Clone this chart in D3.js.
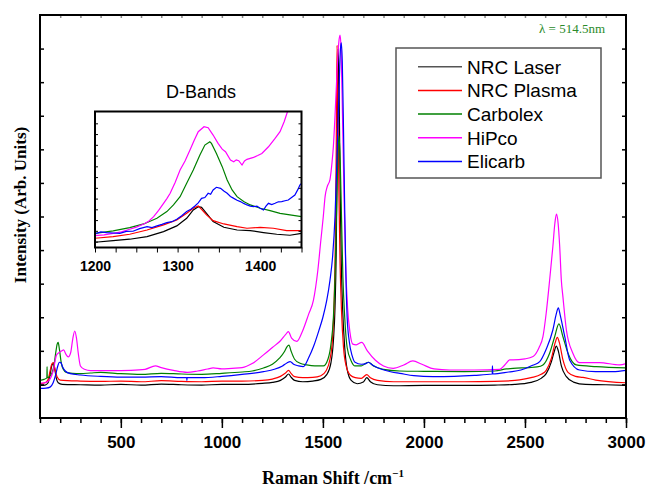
<!DOCTYPE html>
<html>
<head>
<meta charset="utf-8">
<script src="https://cdn.jsdelivr.net/npm/d3@7"></script>
<style>
  body { margin: 0; background: #fff; }
  svg { display: block; }
</style>
</head>
<body>
<div id="chart"></div>
<script>
// legend names and colours
const names = ["NRC Laser", "NRC Plasma", "Carbolex", "HiPco", "Elicarb"];
const colors = ["#000000", "#ff0000", "#008000", "#ff00ff", "#0000ff"];
const legendColors = ["#555555", "#ff0000", "#008000", "#ff00ff", "#0000ff"];

// main spectrum: [Raman shift, intensity (arb.)]
const nrcLaser = [[100,0.97],[125,0.98],[140,1.05],[150,1.3],[158,1.55],[165,1.62],[172,1.5],[180,1.2],[190,1.05],[210,1.0],[300,0.99],[400,0.98],[500,1.0],[600,0.98],[700,1.01],[800,0.99],[900,0.98],[1000,1.0],[1100,1.0],[1200,1.03],[1250,1.06],[1290,1.12],[1315,1.22],[1330,1.31],[1342,1.22],[1360,1.12],[1400,1.08],[1450,1.1],[1490,1.15],[1520,1.3],[1540,1.65],[1552,2.3],[1560,3.3],[1566,5.0],[1571,8.0],[1576,11.0],[1580,9.8],[1585,7.0],[1591,4.6],[1598,3.2],[1608,2.1],[1620,1.45],[1640,1.12],[1670,1.02],[1700,1.07],[1717,1.2],[1735,1.08],[1770,0.99],[1850,0.96],[2000,0.97],[2200,0.97],[2350,0.98],[2450,1.0],[2530,1.06],[2580,1.18],[2605,1.32],[2631,1.68],[2645,1.98],[2655,2.14],[2665,2.0],[2680,1.55],[2705,1.23],[2740,1.07],[2800,1.0],[2900,0.99],[3000,0.97]];
const nrcPlasma = [[100,1.02],[125,1.05],[140,1.15],[150,1.4],[158,1.6],[166,1.65],[175,1.42],[185,1.22],[200,1.13],[300,1.1],[400,1.09],[500,1.1],[600,1.08],[700,1.11],[800,1.09],[900,1.08],[1000,1.1],[1100,1.1],[1200,1.12],[1250,1.16],[1290,1.24],[1315,1.34],[1330,1.42],[1342,1.33],[1360,1.23],[1400,1.2],[1450,1.21],[1490,1.26],[1515,1.4],[1535,1.75],[1548,2.4],[1556,3.5],[1562,5.5],[1566,8.0],[1570,11.1],[1574,9.6],[1579,6.8],[1585,4.6],[1592,3.2],[1602,2.1],[1615,1.55],[1635,1.28],[1660,1.2],[1690,1.18],[1717,1.29],[1735,1.2],[1770,1.12],[1850,1.08],[2000,1.08],[2200,1.08],[2350,1.09],[2450,1.12],[2530,1.2],[2580,1.3],[2605,1.42],[2631,1.78],[2650,2.25],[2660,2.4],[2670,2.25],[2688,1.73],[2713,1.36],[2750,1.24],[2787,1.21],[2850,1.13],[3000,1.05]];
const carbolex = [[100,1.12],[120,1.15],[130,1.18],[134,1.2],[135,1.53],[136,1.2],[145,1.22],[160,1.35],[170,1.6],[178,1.95],[185,2.2],[190,2.25],[196,2.05],[205,1.65],[215,1.45],[230,1.36],[260,1.33],[300,1.32],[350,1.34],[400,1.36],[500,1.32],[600,1.3],[700,1.33],[800,1.31],[900,1.3],[1000,1.33],[1100,1.37],[1150,1.4],[1206,1.49],[1250,1.6],[1285,1.78],[1310,1.98],[1322,2.12],[1332,2.17],[1342,2.0],[1360,1.75],[1387,1.63],[1420,1.58],[1460,1.55],[1502,1.55],[1525,1.75],[1540,2.2],[1552,3.0],[1560,4.2],[1567,6.0],[1573,7.6],[1580,8.4],[1586,7.6],[1592,6.0],[1599,4.2],[1608,3.0],[1620,2.1],[1640,1.7],[1659,1.55],[1690,1.55],[1710,1.62],[1725,1.66],[1750,1.55],[1800,1.45],[1881,1.4],[2000,1.39],[2200,1.38],[2350,1.4],[2408,1.46],[2441,1.48],[2520,1.5],[2560,1.52],[2589,1.58],[2622,1.93],[2647,2.42],[2668,2.8],[2688,2.42],[2713,1.93],[2754,1.58],[2853,1.53],[3000,1.49]];
const hipco = [[100,1.04],[125,1.05],[145,1.12],[165,1.4],[182,1.88],[195,1.95],[208,2.0],[217,2.03],[228,1.9],[240,1.82],[252,1.95],[262,2.35],[272,2.59],[280,2.4],[290,1.9],[300,1.55],[320,1.45],[350,1.41],[450,1.41],[550,1.42],[620,1.45],[671,1.55],[700,1.5],[760,1.42],[829,1.36],[880,1.4],[930,1.46],[957,1.49],[1000,1.46],[1050,1.48],[1100,1.5],[1150,1.62],[1206,1.88],[1250,2.1],[1290,2.3],[1315,2.48],[1329,2.57],[1345,2.38],[1371,2.28],[1400,2.6],[1430,3.1],[1453,3.5],[1475,4.4],[1490,5.3],[1502,6.0],[1511,6.6],[1522,6.9],[1535,7.1],[1545,7.6],[1552,8.1],[1560,9.0],[1570,10.3],[1579,11.2],[1585,11.4],[1590,11.0],[1597,9.0],[1605,6.5],[1613,4.5],[1622,3.3],[1634,2.55],[1648,2.2],[1665,2.18],[1692,2.25],[1720,2.0],[1760,1.72],[1800,1.55],[1848,1.48],[1900,1.58],[1945,1.7],[1990,1.6],[2050,1.46],[2128,1.43],[2250,1.43],[2375,1.45],[2400,1.58],[2425,1.73],[2441,1.73],[2500,1.76],[2540,1.83],[2570,2.1],[2589,2.42],[2605,3.12],[2622,4.1],[2638,5.1],[2648,5.8],[2656,6.07],[2664,5.8],[2672,5.1],[2680,4.1],[2688,3.6],[2705,2.62],[2737,1.93],[2770,1.65],[2869,1.65],[2968,1.58],[3000,1.62]];
const elicarb = [[100,0.88],[130,0.89],[150,0.92],[165,1.05],[178,1.3],[188,1.55],[196,1.66],[203,1.65],[212,1.52],[225,1.4],[250,1.32],[300,1.28],[400,1.24],[500,1.22],[600,1.22],[700,1.23],[800,1.2],[826,1.2],[827,1.12],[828,1.2],[900,1.2],[1000,1.24],[1100,1.3],[1206,1.38],[1260,1.45],[1300,1.55],[1322,1.64],[1338,1.68],[1355,1.6],[1380,1.55],[1403,1.53],[1430,1.8],[1455,2.15],[1480,2.6],[1500,3.0],[1519,3.5],[1535,4.1],[1548,4.8],[1560,6.0],[1570,7.8],[1580,9.8],[1587,11.0],[1591,11.17],[1596,10.6],[1602,8.6],[1608,6.2],[1614,4.2],[1620,3.0],[1630,2.3],[1645,1.85],[1659,1.66],[1690,1.6],[1712,1.62],[1725,1.66],[1745,1.58],[1790,1.45],[1840,1.37],[1881,1.33],[1950,1.26],[2045,1.23],[2150,1.24],[2250,1.27],[2338,1.31],[2339,1.55],[2341,1.31],[2420,1.37],[2480,1.43],[2538,1.57],[2573,1.68],[2605,2.05],[2638,2.62],[2655,3.1],[2665,3.28],[2675,3.05],[2697,2.42],[2721,1.73],[2770,1.43],[2850,1.38],[2935,1.38],[3000,1.42]];

// inset (D-band region), own arbitrary scale
const dLaser = [[1200,-0.06],[1222,0.09],[1242,0.22],[1263,0.46],[1283,0.93],[1299,1.46],[1311,2.17],[1319,2.94],[1325,3.25],[1329,3.19],[1335,2.63],[1343,1.86],[1356,1.33],[1372,1.08],[1388,1.02],[1404,0.84],[1420,0.68],[1436,0.59],[1450,0.77]];
const dPlasma = [[1200,0.31],[1222,0.46],[1242,0.68],[1263,1.08],[1283,1.55],[1299,2.01],[1311,2.63],[1319,3.1],[1325,3.31],[1329,3.0],[1335,2.48],[1343,1.95],[1356,1.64],[1372,1.39],[1384,1.24],[1400,1.33],[1416,1.24],[1432,1.02],[1450,1.02]];
const dCarbolex = [[1200,0.77],[1222,0.99],[1242,1.3],[1259,1.64],[1275,2.17],[1287,2.79],[1295,3.41],[1303,4.18],[1311,5.42],[1319,6.66],[1327,8.05],[1333,8.98],[1339,9.29],[1341,9.13],[1347,8.2],[1354,6.97],[1360,5.73],[1366,4.8],[1372,4.18],[1380,3.72],[1388,3.41],[1400,3.1],[1412,2.88],[1424,2.63],[1436,2.48],[1450,2.32]];
const dHipco = [[1200,0.56],[1211,0.62],[1222,0.77],[1232,0.9],[1242,1.15],[1250,1.35],[1259,1.64],[1265,1.9],[1271,2.32],[1277,2.9],[1283,3.56],[1287,4.0],[1291,4.49],[1297,5.5],[1303,6.66],[1309,7.5],[1315,8.51],[1320,9.4],[1325,10.22],[1332,10.68],[1337,10.59],[1343,9.91],[1349,9.13],[1354,8.6],[1358,8.36],[1364,7.59],[1368,7.43],[1371,7.6],[1374,7.52],[1378,7.12],[1381,7.5],[1384,7.65],[1392,7.83],[1397,8.0],[1402,8.2],[1410,8.82],[1418,9.6],[1424,10.22],[1429,11.15],[1433,12.07],[1436,12.6]];
const dElicarb = [[1200,0.71],[1207,0.9],[1214,0.84],[1222,0.8],[1230,0.77],[1238,0.95],[1246,0.96],[1254,1.2],[1263,1.39],[1269,1.3],[1275,1.46],[1281,1.6],[1287,1.76],[1293,1.85],[1299,2.07],[1305,2.4],[1311,2.79],[1316,3.0],[1321,3.31],[1325,3.6],[1329,4.02],[1333,4.1],[1337,4.49],[1340,4.4],[1343,4.8],[1347,5.05],[1352,4.95],[1356,4.7],[1360,4.49],[1364,4.2],[1368,4.02],[1372,3.85],[1376,3.72],[1380,3.55],[1384,3.41],[1388,3.3],[1392,3.25],[1396,3.3],[1400,3.1],[1404,2.94],[1407,3.3],[1410,3.56],[1414,3.45],[1418,3.56],[1422,3.7],[1426,3.72],[1430,3.8],[1434,3.87],[1438,4.1],[1442,4.33],[1446,4.9],[1448,5.26],[1450,5.42]];

const mainSeries = [nrcLaser, nrcPlasma, carbolex, hipco, elicarb];
const insetSeries = [dLaser, dPlasma, dCarbolex, dHipco, dElicarb];

const majorTicks = [500, 1000, 1500, 2000, 2500, 3000];
const insetTicks = [1200, 1300, 1400];

const W = 646, H = 487;
const svg = d3.select("#chart").append("svg").attr("width", W).attr("height", H);

// main scales
const x = d3.scaleLinear().domain([100, 3000]).range([40, 626]);
const y = d3.scaleLinear().domain([0, 12]).range([418, 15]);

const line = d3.line()
  .x(function(d) { return x(d[0]); })
  .y(function(d) { return y(d[1]); })
  .curve(d3.curveMonotoneX);

svg.append("defs").append("clipPath").attr("id", "mainClip")
  .append("rect").attr("x", 40).attr("y", 15).attr("width", 586).attr("height", 403);

svg.append("g").attr("clip-path", "url(#mainClip)")
  .selectAll("path").data(mainSeries).enter().append("path")
  .attr("d", line)
  .attr("fill", "none")
  .attr("stroke", function(d, i) { return colors[i]; })
  .attr("stroke-width", 1.2);

// axes
const minor = d3.range(100, 3001, 100);
svg.append("g").attr("transform", "translate(0,418)")
  .call(d3.axisBottom(x).tickValues(minor).tickSize(5).tickFormat(""))
  .call(function(g) { g.select(".domain").remove(); });
svg.append("g").attr("transform", "translate(0,418)")
  .call(d3.axisBottom(x).tickValues(majorTicks).tickSize(10).tickPadding(8).tickFormat(d3.format("d")))
  .call(function(g) { g.select(".domain").remove(); })
  .selectAll("text")
  .attr("font-family", "Liberation Sans, Arial, sans-serif")
  .attr("font-weight", "bold").attr("font-size", 17).attr("fill", "#000");
svg.append("g").attr("transform", "translate(0,15)")
  .call(d3.axisTop(x).tickValues(minor.slice(1, -1)).tickSize(-3).tickFormat(""))
  .call(function(g) { g.select(".domain").remove(); })
  .selectAll("line").attr("stroke", "#888");
svg.append("g").attr("transform", "translate(40,0)")
  .call(d3.axisLeft(y).tickValues(d3.range(1, 12)).tickSize(-4).tickFormat(""))
  .call(function(g) { g.select(".domain").remove(); });
svg.append("g").attr("transform", "translate(626,0)")
  .call(d3.axisRight(y).tickValues(d3.range(1, 12)).tickSize(-4).tickFormat(""))
  .call(function(g) { g.select(".domain").remove(); });
svg.selectAll(".tick line").attr("stroke-width", 1.5);

svg.append("rect").attr("x", 40).attr("y", 15).attr("width", 586).attr("height", 403)
  .attr("fill", "none").attr("stroke", "#000").attr("stroke-width", 2);

// axis titles
svg.append("text").attr("x", 333).attr("y", 484).attr("text-anchor", "middle")
  .attr("font-family", "Liberation Serif, Times New Roman, serif").attr("font-weight", "bold").attr("font-size", 18)
  .text("Raman Shift /cm")
  .append("tspan").attr("dy", -7).attr("font-size", 11).text("−1");

svg.append("text").attr("transform", "translate(26,205) rotate(-90)").attr("text-anchor", "middle")
  .attr("font-family", "Liberation Serif, Times New Roman, serif").attr("font-weight", "bold").attr("font-size", 17)
  .text("Intensity (Arb. Units)");

svg.append("text").attr("x", 605).attr("y", 33).attr("text-anchor", "end")
  .attr("font-family", "Liberation Serif, Times New Roman, serif").attr("font-size", 13).attr("fill", "#2a8a2a")
  .text("λ = 514.5nm");

// legend
const legend = svg.append("g");
legend.append("rect").attr("x", 396).attr("y", 48).attr("width", 205).attr("height", 130)
  .attr("fill", "#fff").attr("stroke", "#555").attr("stroke-width", 1.5);
const rows = legend.selectAll("g.row").data(names).enter().append("g")
  .attr("transform", function(d, i) { return "translate(0," + (66.7 + i * 23.7) + ")"; });
rows.append("line").attr("x1", 418).attr("x2", 462)
  .attr("stroke", function(d, i) { return legendColors[i]; }).attr("stroke-width", 1.5);
rows.append("text").attr("x", 467).attr("dy", "0.36em")
  .attr("font-family", "Liberation Sans, Arial, sans-serif").attr("font-size", 19)
  .text(function(d) { return d; });

// inset
const xi = d3.scaleLinear().domain([1200, 1450]).range([95, 301.5]);
const yi = d3.scaleLinear().domain([-0.55, 12.1]).range([247.5, 111.5]);
const lineI = d3.line()
  .x(function(d) { return xi(d[0]); })
  .y(function(d) { return yi(d[1]); });

svg.append("text").attr("x", 201).attr("y", 98).attr("text-anchor", "middle")
  .attr("font-family", "Liberation Sans, Arial, sans-serif").attr("font-size", 18)
  .text("D-Bands");

svg.append("rect").attr("x", 95).attr("y", 111.5).attr("width", 206.5).attr("height", 136).attr("fill", "#fff");
svg.select("defs").append("clipPath").attr("id", "insetClip")
  .append("rect").attr("x", 95).attr("y", 111.5).attr("width", 206.5).attr("height", 136);
svg.append("g").attr("clip-path", "url(#insetClip)")
  .selectAll("path").data(insetSeries).enter().append("path")
  .attr("d", lineI)
  .attr("fill", "none")
  .attr("stroke", function(d, i) { return colors[i]; })
  .attr("stroke-width", 1.2);

svg.append("g").attr("transform", "translate(0,247.5)")
  .call(d3.axisBottom(xi).tickValues(d3.range(1200, 1451, 25)).tickSize(5).tickPadding(9)
    .tickFormat(function(d) { return insetTicks.indexOf(d) >= 0 ? d : ""; }))
  .call(function(g) { g.select(".domain").remove(); })
  .selectAll("text")
  .attr("font-family", "Liberation Sans, Arial, sans-serif")
  .attr("font-weight", "bold").attr("font-size", 14).attr("fill", "#000");
svg.append("g").attr("transform", "translate(95,0)")
  .call(d3.axisLeft(yi).tickValues(d3.range(0, 12)).tickSize(-3).tickFormat(""))
  .call(function(g) { g.select(".domain").remove(); });
svg.append("g").attr("transform", "translate(301.5,0)")
  .call(d3.axisRight(yi).tickValues(d3.range(0, 12)).tickSize(-3).tickFormat(""))
  .call(function(g) { g.select(".domain").remove(); });
svg.append("rect").attr("x", 95).attr("y", 111.5).attr("width", 206.5).attr("height", 136)
  .attr("fill", "none").attr("stroke", "#000").attr("stroke-width", 2);
</script>
</body>
</html>
